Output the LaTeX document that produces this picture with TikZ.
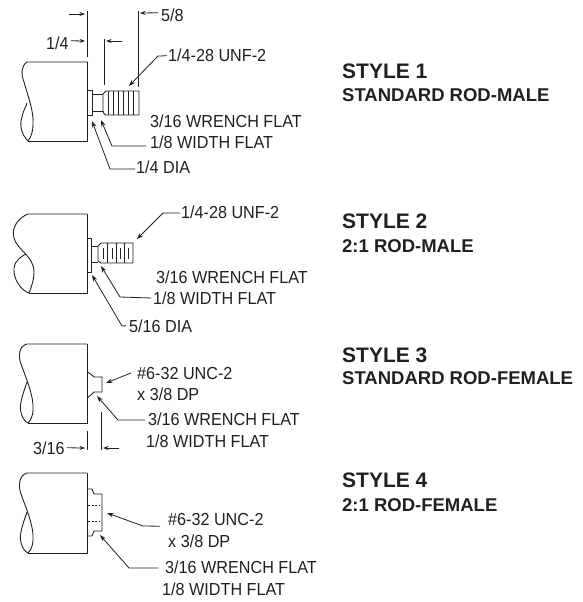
\documentclass[tikz,border=0pt]{standalone}
\usepackage{fontspec}
\setmainfont{Liberation Sans}
\newfontfamily\narrowlabel[FakeStretch=0.93]{Liberation Sans}
\usetikzlibrary{arrows.meta}
\definecolor{ink}{HTML}{231F20}
\tikzset{
 part/.style={draw=ink,line width=0.9pt,line join=round},
 thin part/.style={draw=ink,line width=0.7pt},
 dim/.style={draw=ink,line width=0.8pt,-{Stealth[length=5.5pt,width=4pt]}},
 lead/.style={draw=ink,line width=0.8pt,-{Stealth[length=6.5pt,width=4.5pt]}},
 ext/.style={draw=ink,line width=0.9pt},
 lbl/.style={inner sep=0pt,anchor=base west,text=ink,font=\narrowlabel\fontsize{17.4}{20}\selectfont},
 head/.style={inner sep=0pt,anchor=base west,text=ink,font=\fontsize{21}{24}\selectfont\bfseries},
 sub/.style={inner sep=0pt,anchor=base west,text=ink,font=\fontsize{18.5}{21}\selectfont\bfseries},
}
\begin{document}
\begin{tikzpicture}[x=1pt,y=-1pt]
\useasboundingbox (0,0) rectangle (582,602);
% ---- style 1
\draw[part] (88,62) -- (27,62) .. controls (21,66) and (21,74) .. (24,82) .. controls (28,96) and (34,112) .. (33,124) .. controls (33,132) and (31,137) .. (28,141) .. controls (22,135) and (19,126) .. (22,117) .. controls (23,111) and (26,107) .. (27,103);
\draw[part] (87,62) -- (87,141) -- (28,141);
\draw[part] (87,90) -- (92,90) -- (92,115) -- (87,115);
\draw[part] (92,94) -- (103,94) (92,111) -- (103,111);
\draw[part] (103,94) .. controls (104,92) .. (106,91) -- (139,91) -- (139,115) -- (106,115) .. controls (104,114) .. (103,111) -- cycle;
\foreach \x in {108,113,118,123,128,133} \draw[thin part] (\x,91) -- (\x,115);
\coordinate (e1a) at (87,11); \coordinate (e1b) at (87,57);
\coordinate (e2a) at (104,39); \coordinate (e2b) at (104,85);
\coordinate (e3a) at (138,11); \coordinate (e3b) at (138,87);
\draw[ext] (e1a) -- (e1b);
\draw[ext] (e2a) -- (e2b);
\draw[ext] (e3a) -- (e3b);
\coordinate (a1) at (69,14); \coordinate (a1e) at (85,14);
\draw[dim] (a1) -- (a1e);
\node[lbl] (t14) at (46,49) {1/4};
\coordinate (a2e) at (85,41);
\draw[dim] ([shift={(2pt,2pt)}]t14.east) -- (a2e);
\coordinate (a3) at (122,41); \coordinate (a3e) at (106,41);
\draw[dim] (a3) -- (a3e);
\node[lbl] (t58) at (161,22) {5/8};
\coordinate (a4e) at (140,13);
\draw[dim] ([shift={(-3pt,3pt)}]t58.west) -- (a4e);
\node[lbl] (t1u) at (168,62) {1/4-28 UNF-2};
\coordinate (l1) at (158,56); \coordinate (l1e) at (129,86);
\draw[lead] ([xshift=-1pt]t1u.west) -- (l1) -- (l1e);
\node[lbl] (t1w) at (150,127) {3/16 WRENCH FLAT};
\node[lbl] (t1f) at (150,148) {1/8 WIDTH FLAT};
\coordinate (l2) at (112,146); \coordinate (l2e) at (101,120);
\draw[lead] ([shift={(-4pt,-4.2pt)}]t1f.west) -- (l2) -- (l2e);
\node[lbl] (t1d) at (136,173) {1/4 DIA};
\coordinate (l3) at (110,169); \coordinate (l3e) at (92,121);
\draw[lead] ([shift={(-1pt,-2.2pt)}]t1d.west) -- (l3) -- (l3e);
\node[head] (s1) at (342,78) {STYLE 1};
\node[sub] (s1b) at (342,101) {STANDARD ROD-MALE};
% ---- style 2
\draw[part] (87,214) -- (28,214) .. controls (18,218) and (11,228) .. (14,238) .. controls (17,250) and (34,256) .. (34,272) .. controls (34,280) and (31,288) .. (29,293) .. controls (22,291) and (13,280) .. (14,268) .. controls (15,260) and (22,256) .. (26,254);
\draw[part] (87,214) -- (87,293) -- (29,293);
\draw[part] (87,238) -- (91,238) -- (91,272) -- (87,272);
\draw[part] (91,246) -- (98,246) (91,262) -- (98,262);
\draw[part] (98,246) -- (101,243) -- (133,243) -- (133,263) -- (101,263) -- (98,261) -- cycle;
\foreach \x in {107,116,124} \draw[thin part] (\x,243) -- (\x,263);
\foreach \x in {103,112,120,128} \draw[thin part] (\x,248) -- (\x,259);
\node[lbl] (t2u) at (181,218) {1/4-28 UNF-2};
\coordinate (m1) at (163,213); \coordinate (m1e) at (137,239);
\draw[lead] ([shift={(-1pt,-1.2pt)}]t2u.west) -- (m1) -- (m1e);
\node[lbl] (t2w) at (156,283) {3/16 WRENCH FLAT};
\node[lbl] (t2f) at (153,304) {1/8 WIDTH FLAT};
\coordinate (m2) at (120,297); \coordinate (m2e) at (101,266);
\draw[lead] ([shift={(-2pt,-0.2pt)}]t2f.west) -- (m2) -- (m2e);
\node[lbl] (t2d) at (129,332) {5/16 DIA};
\coordinate (m3) at (122,326); \coordinate (m3e) at (92,275);
\draw[lead] ([xshift=-3pt]t2d.west) -- (m3) -- (m3e);
\node[head] (s2) at (342,228) {STYLE 2};
\node[sub] (s2b) at (342,252) {2:1 ROD-MALE};
% ---- style 3
\draw[part] (87,344) -- (27,344) .. controls (19,346) and (18,356) .. (21,364) .. controls (26,378) and (34,396) .. (33,410) .. controls (33,415) and (31,420) .. (28,423) .. controls (22,420) and (19,410) .. (21,402) .. controls (22,396) and (25,388) .. (27,382);
\draw[part] (87,344) -- (87,423) -- (28,423);
\draw[part] (87,372) .. controls (90,373) and (92,375) .. (94,377) -- (102,377) -- (102,392) -- (94,392) .. controls (92,394) and (90,396) .. (87,398);
\coordinate (f1a) at (87,431); \coordinate (f1b) at (87,450);
\coordinate (f2a) at (101,412); \coordinate (f2b) at (101,450);
\draw[ext] (f1a) -- (f1b);
\draw[ext] (f2a) -- (f2b);
\node[lbl] (t3a) at (137,379) {\#6-32 UNC-2};
\node[lbl] (t3b) at (137,400) {x 3/8 DP};
\coordinate (n1e) at (106,383);
\draw[lead] ([xshift=-6pt]t3a.west) -- (n1e);
\node[lbl] (t3w) at (148,425) {3/16 WRENCH FLAT};
\node[lbl] (t3f) at (146,447) {1/8 WIDTH FLAT};
\coordinate (n2) at (118,420); \coordinate (n2e) at (97,396);
\draw[lead] ([shift={(-3pt,-1.2pt)}]t3w.west) -- (n2) -- (n2e);
\node[lbl] (t3d) at (33,454) {3/16};
\coordinate (n3e) at (85,448);
\draw[dim] ([xshift=2pt]t3d.east) -- (n3e);
\coordinate (n4) at (119,448); \coordinate (n4e) at (103,448);
\draw[dim] (n4) -- (n4e);
\node[head] (s3) at (342,362) {STYLE 3};
\node[sub] (s3b) at (342,384) {STANDARD ROD-FEMALE};
% ---- style 4
\draw[part] (87,473) -- (27,473) .. controls (19,475) and (18,486) .. (21,494) .. controls (26,508) and (34,526) .. (33,540) .. controls (33,545) and (31,550) .. (28,553) .. controls (22,550) and (19,540) .. (21,532) .. controls (22,526) and (25,518) .. (27,512);
\draw[part] (87,473) -- (87,553) -- (28,553);
\draw[part] (87,489) -- (92,489) -- (94,494) -- (102,494) -- (102,531) -- (94,531) -- (92,536) -- (87,536);
\draw[thin part,dash pattern=on 2pt off 1.5pt] (88,505) -- (100,505) (88,521) -- (100,521);
\node[lbl] (t4a) at (168,525) {\#6-32 UNC-2};
\node[lbl] (t4b) at (168,547) {x 3/8 DP};
\coordinate (o1) at (143,526); \coordinate (o1e) at (107,513);
\draw[lead] ([shift={(-8pt,-7.2pt)}]t4a.west) -- (o1) -- (o1e);
\node[lbl] (t4w) at (165,573) {3/16 WRENCH FLAT};
\node[lbl] (t4f) at (162,595) {1/8 WIDTH FLAT};
\coordinate (o2) at (129,568); \coordinate (o2e) at (100,535);
\draw[lead] ([shift={(-7pt,-1.2pt)}]t4w.west) -- (o2) -- (o2e);
\node[head] (s4) at (342,487) {STYLE 4};
\node[sub] (s4b) at (342,511) {2:1 ROD-FEMALE};
\end{tikzpicture}
\end{document}
